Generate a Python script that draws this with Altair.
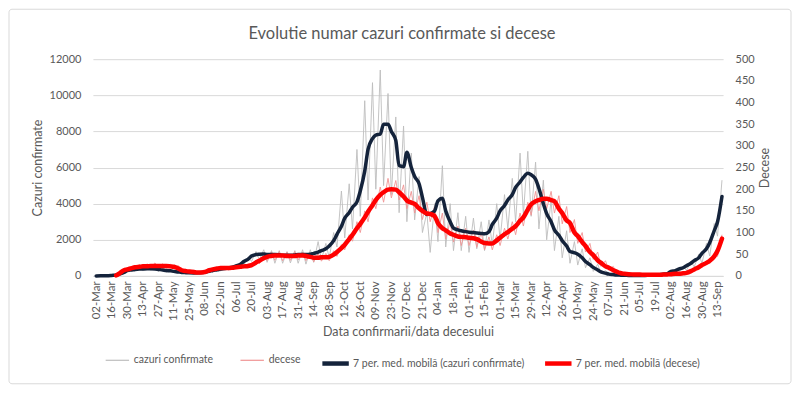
import altair as alt
import pandas as pd

S_RAW_C = "cazuri confirmate"
S_RAW_D = "decese"
S_MA_C = "7 per. med. mobilă (cazuri confirmate)"
S_MA_D = "7 per. med. mobilă (decese)"
TITLE = "Evolutie numar cazuri confirmate si decese"

# one Monday + Friday pair per week, 02-Mar-2020 .. 17-Sep-2021
mondays = pd.date_range("2020-03-02", "2021-09-13", freq="7D")
dates = []
for m in mondays:
    dates += [m.strftime("%Y-%m-%d"), (m + pd.Timedelta(days=4)).strftime("%Y-%m-%d")]

tick_dates = pd.date_range("2020-03-02", "2021-09-13", freq="14D")

# daily confirmed cases (weekly low / high)
cases_raw = [
    0, 3, 2, 15, 20, 60, 110, 250, 250, 420, 280, 480, 300, 500, 310, 470, 250, 430, 200, 360,
    180, 310, 130, 250, 120, 220, 110, 230, 150, 300, 210, 400, 280, 470, 320, 560, 400, 720, 600, 1050,
    800, 1350, 900, 1450, 750, 1400, 700, 1400, 700, 1350, 720, 1400, 700, 1450, 650, 1450, 750, 1900, 900, 1800,
    1000, 2400, 1600, 4700, 2100, 5100, 2600, 7000, 3300, 9700, 4200, 10700, 4800, 11400, 5000, 10100, 4500, 8800, 3500, 8300,
    3000, 6800, 3100, 5500, 2400, 3500, 1300, 4000, 1900, 6100, 1600, 4000, 1400, 3500, 1400, 3300, 1300, 3200, 1500, 3000,
    1400, 3100, 1700, 4000, 2000, 4500, 2600, 5400, 3000, 6800, 3400, 6900, 3300, 6300, 2600, 5300, 2000, 4200, 1400, 3300,
    1000, 2500, 700, 1900, 600, 1500, 450, 1000, 250, 650, 120, 300, 60, 140, 30, 70, 20, 45, 15, 40,
    15, 40, 18, 55, 30, 90, 60, 170, 150, 380, 200, 520, 300, 800, 500, 1200, 700, 1800, 1100, 2900,
    2200, 5300,
]

# 7-day moving average of cases
cases_ma = [
    1, 3, 5, 12, 25, 45, 100, 190, 290, 330, 360, 380, 385, 390, 390, 385, 360, 330, 300, 280,
    250, 220, 190, 180, 170, 165, 170, 185, 210, 250, 300, 340, 380, 410, 440, 490, 560, 650, 800, 930,
    1100, 1180, 1200, 1210, 1180, 1180, 1180, 1170, 1150, 1150, 1150, 1160, 1180, 1180, 1180, 1200, 1250, 1320, 1400, 1500,
    1650, 1950, 2300, 2750, 3200, 3500, 3800, 4100, 4700, 5800, 7000, 7600, 7800, 7850, 8400, 8400, 8000, 7500, 6100, 6050,
    6850, 6000, 5500, 5100, 4350, 3400, 3450, 3600, 4150, 4300, 3600, 3000, 2650, 2550, 2500, 2450, 2420, 2400, 2380, 2350,
    2330, 2450, 2850, 3200, 3600, 3900, 4200, 4500, 4900, 5200, 5450, 5680, 5600, 5350, 4850, 4000, 3450, 3000, 2550, 2250,
    1950, 1650, 1350, 1280, 1200, 1000, 800, 620, 470, 330, 220, 150, 100, 70, 50, 40, 30, 28, 25, 25,
    25, 27, 30, 38, 50, 65, 90, 130, 250, 290, 380, 450, 560, 700, 850, 1000, 1250, 1500, 1850, 2500,
    3000, 4400,
]

# daily deaths (weekly low / high)
deaths_raw = [
    None, None, None, None, None, 2, 5, 14, 12, 20, 18, 26, 18, 28, 20, 30, 19, 28, 18, 27,
    17, 24, 10, 16, 7, 13, 6, 11, 7, 14, 12, 20, 14, 22, 15, 23, 16, 26, 18, 28,
    20, 36, 28, 46, 35, 55, 36, 56, 35, 55, 36, 56, 37, 55, 35, 53, 32, 52, 34, 52,
    35, 58, 45, 72, 60, 95, 80, 125, 100, 150, 125, 180, 155, 205, 170, 225, 180, 220, 175, 210,
    155, 195, 145, 185, 130, 170, 125, 160, 100, 145, 85, 125, 78, 115, 70, 110, 70, 105, 66, 100,
    60, 90, 60, 95, 70, 110, 85, 125, 95, 145, 115, 170, 140, 195, 150, 200, 155, 195, 145, 185,
    120, 160, 100, 130, 75, 100, 55, 75, 38, 55, 22, 35, 14, 22, 6, 12, 3, 7, 2, 5,
    1, 4, 1, 4, 1, 4, 1, 5, 2, 6, 3, 8, 5, 13, 11, 23, 20, 35, 28, 50,
    45, 95,
]

# 7-day moving average of deaths
deaths_ma = [
    None, None, None, None, None, 1, 6, 13, 15, 18, 20, 21, 22, 22, 23, 23, 23, 23, 23, 22,
    21, 17, 13, 11, 10, 9, 8, 8, 9, 13, 15, 17, 18, 18, 18, 19, 20, 21, 22, 23,
    25, 31, 35, 41, 44, 46, 47, 47, 47, 46, 46, 46, 47, 47, 46, 44, 42, 42, 43, 43,
    44, 49, 55, 64, 72, 85, 95, 110, 120, 135, 148, 163, 175, 187, 193, 199, 200, 199, 193, 183,
    174, 169, 166, 156, 150, 144, 143, 138, 122, 110, 105, 98, 95, 91, 90, 89, 88, 87, 85, 79,
    76, 75, 75, 82, 88, 96, 101, 109, 115, 127, 135, 153, 165, 172, 175, 178, 178, 175, 172, 155,
    145, 128, 122, 100, 92, 78, 69, 55, 48, 36, 30, 22, 19, 13, 10, 6, 5, 4, 3.5, 3,
    3, 2.5, 2.5, 2.5, 2.5, 2.5, 3, 3.5, 4, 5, 5, 6, 7, 11, 15, 20, 25, 30, 35, 45,
    58, 86,
]

FONT = "Lato"
TXT = "#595959"
GRID = "#d9d9d9"
W, H = 631, 217


def make_df(name, vals):
    rows = [{"date": d, "value": v, "series": name} for d, v in zip(dates, vals) if v is not None]
    return pd.DataFrame(rows)


tick_ms = [int(t.tz_localize("UTC").timestamp() * 1000) for t in tick_dates]

x_enc = alt.X(
    "date:T",
    scale=alt.Scale(
        type="utc",
        domain=[alt.DateTime(year=2020, month=2, date=28, utc=True),
                alt.DateTime(year=2021, month=9, date=18, utc=True)],
    ),
    axis=alt.Axis(
        values=tick_ms, format="%d-%b", labelAngle=270, labelOverlap=False,
        ticks=False, grid=False, domainColor=GRID, labelFont=FONT, labelFontSize=11.5,
        labelColor=TXT, labelPadding=5, title="Data confirmarii/data decesului",
        titleFont=FONT, titleFontSize=12.5, titleFontWeight="normal", titleColor=TXT,
        titlePadding=5,
    ),
)

y_left_axis = alt.Axis(
    values=list(range(0, 12001, 2000)), format="d", grid=True, gridColor=GRID, ticks=False,
    domain=False, labelFont=FONT, labelFontSize=11, labelColor=TXT, labelPadding=12,
    title="Cazuri confirmate", titleFont=FONT, titleFontSize=12.5, titleFontWeight="normal",
    titleColor=TXT, titlePadding=5,
)
y_right_axis = alt.Axis(
    orient="right", values=list(range(0, 501, 50)), format="d", grid=False, ticks=False,
    domain=False, labelFont=FONT, labelFontSize=11, labelColor=TXT, labelPadding=12,
    title="Decese", titleAngle=270, titleBaseline="top", titleFont=FONT, titleFontSize=12.5,
    titleFontWeight="normal", titleColor=TXT, titlePadding=4,
)

raw_color = alt.Color(
    "series:N",
    scale=alt.Scale(domain=[S_RAW_C, S_RAW_D], range=["#bdbdbd", "#f09494"]),
    legend=alt.Legend(
        orient="none", legendX=12, legendY=289, direction="horizontal", title=None,
        symbolType="stroke", symbolSize=550, symbolStrokeWidth=1.2, labelFont=FONT,
        labelFontSize=10.5, labelColor=TXT, columnPadding=24, labelOffset=4,
        labelLimit=400,
    ),
)
ma_stroke = alt.Stroke(
    "series:N",
    scale=alt.Scale(domain=[S_MA_C, S_MA_D], range=["#14233b", "#ff0000"]),
    legend=alt.Legend(
        orient="none", legendX=227.5, legendY=289, direction="horizontal", title=None,
        symbolType="stroke", symbolSize=700, symbolStrokeWidth=4.5, labelFont=FONT,
        labelFontSize=10.5, labelColor=TXT, columnPadding=11, labelOffset=2,
        labelLimit=400,
    ),
)

border = alt.Chart(pd.DataFrame({"k": [0]})).mark_rect(
    filled=False, stroke=GRID, strokeWidth=1, cornerRadius=3
).encode(
    x=alt.value(-84), x2=alt.value(W + 68), y=alt.value(-50), y2=alt.value(H + 108)
)

title_txt = alt.Chart(pd.DataFrame({"t": [TITLE]})).mark_text(
    font=FONT, fontSize=16.5, color=TXT, align="center", baseline="middle"
).encode(text="t:N", x=alt.value(W / 2 - 6), y=alt.value(-25))

l_raw_c = alt.Chart(make_df(S_RAW_C, cases_raw)).mark_line(strokeWidth=0.9).encode(
    x=x_enc,
    y=alt.Y("value:Q", scale=alt.Scale(domain=[0, 12000]), axis=y_left_axis),
    color=raw_color,
)
l_ma_c = alt.Chart(make_df(S_MA_C, cases_ma)).mark_line(
    strokeWidth=3.5, interpolate="monotone", strokeCap="round", strokeJoin="round"
).encode(
    x=x_enc,
    y=alt.Y("value:Q", scale=alt.Scale(domain=[0, 12000]), axis=None),
    stroke=ma_stroke,
)
l_raw_d = alt.Chart(make_df(S_RAW_D, deaths_raw)).mark_line(strokeWidth=0.9).encode(
    x=x_enc,
    y=alt.Y("value:Q", scale=alt.Scale(domain=[0, 500]), axis=y_right_axis),
    color=raw_color,
)
l_ma_d = alt.Chart(make_df(S_MA_D, deaths_ma)).mark_line(
    strokeWidth=4.5, interpolate="monotone", strokeCap="round", strokeJoin="round"
).encode(
    x=x_enc,
    y=alt.Y("value:Q", scale=alt.Scale(domain=[0, 500]), axis=None),
    stroke=ma_stroke,
)

chart = (
    alt.layer(border, title_txt, l_raw_c, l_raw_d, l_ma_c, l_ma_d)
    .resolve_scale(y="independent")
    .properties(width=W, height=H, padding=0, background="white")
    .configure_view(stroke=None)
)

chart.save("out.html", embed_options={"renderer": "svg", "actions": False})
